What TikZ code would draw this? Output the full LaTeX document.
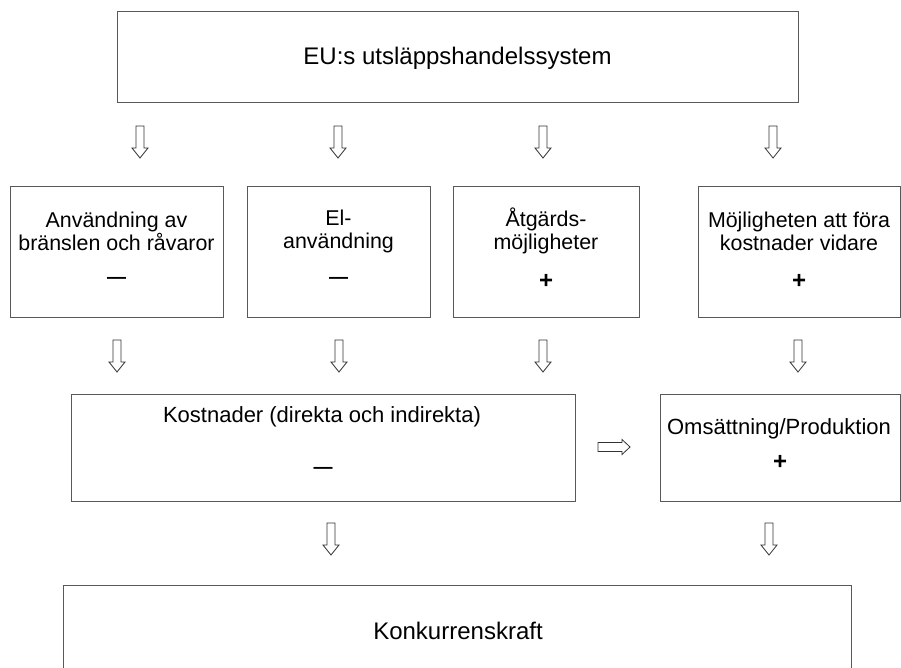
\documentclass[tikz,border=0pt]{standalone}
\usepackage{fontspec}
\setmainfont{Liberation Sans}
\begin{document}
\begin{tikzpicture}[x=1pt,y=-1pt,
  box/.style={draw=black!65,line width=1pt,inner sep=0pt,fill=white},
  txt/.style={inner sep=0pt,align=center,font=\fontsize{21.4}{23}\selectfont},
  plussign/.style={inner sep=0pt,font=\fontsize{24}{24}\selectfont\bfseries},
  minussign/.style={inner sep=0pt,font=\fontsize{19}{19}\selectfont\bfseries},
  arr/.style={draw=black!80,line width=0.8pt,line join=miter},
  dn/.pic={\draw[arr] (-4,0) -- (4,0) -- (4,22) -- (8,22) -- (0,32) -- (-8,22) -- (-4,22) -- cycle;},
  rt/.pic={\draw[arr] (0,-4.5) -- (24,-4.5) -- (24,-7.5) -- (32,0) -- (24,7.5) -- (24,4.5) -- (0,4.5) -- cycle;}
]
\clip (0,0) rectangle (901,668);
\fill[white] (0,0) rectangle (901,668);

% boxes
\node[box,minimum width=681,minimum height=91] (top) at (457.5,57.5) {};
\node[txt,font=\fontsize{24}{26}\selectfont] (topt) at (457.5,58) {EU:s utsläppshandelssystem};

\node[box,minimum width=213,minimum height=130] (b1) at (116.5,252) {};
\node[box,minimum width=183,minimum height=130] (b2) at (338.5,252) {};
\node[box,minimum width=186,minimum height=130] (b3) at (546,252) {};
\node[box,minimum width=202,minimum height=130] (b4) at (799,252) {};

\node[txt] (b1t) at (116.5,231) {Användning av\\bränslen och råvaror};
\node[txt] (b2t) at (338.5,231) {El-\\användning};
\node[txt] (b3t) at (546,231) {Åtgärds-\\möjligheter};
\node[txt] (b4t) at (799,231) {Möjligheten att föra\\kostnader vidare};
\node[minussign] (b1s) at (116.5,280) {—};
\node[minussign] (b2s) at (338.5,280) {—};
\node[plussign] (b3s) at (546,281) {+};
\node[plussign] (b4s) at (799,281) {+};

\node[box,minimum width=504,minimum height=107] (kost) at (323,447.5) {};
\node[txt,font=\fontsize{22}{23}\selectfont] (kostt) at (322,417) {Kostnader (direkta och indirekta)};
\node[minussign] (kosts) at (323,470) {—};

\node[box,minimum width=240,minimum height=107] (oms) at (780,447.5) {};
\node[txt,font=\fontsize{22}{23}\selectfont] (omst) at (779,429) {Omsättning/Produktion};
\node[plussign] (omss) at (780,462) {+};

\node[box,minimum width=788,minimum height=95] (konk) at (457,632.5) {};
\node[txt,font=\fontsize{24}{26}\selectfont] (konkt) at (458,631) {Konkurrenskraft};

% block arrows
\pic at (140,126) {dn};
\pic at (338,126) {dn};
\pic at (543,126) {dn};
\pic at (773,126) {dn};

\pic at (117,340) {dn};
\pic at (339,340) {dn};
\pic at (543,340) {dn};
\pic at (798,340) {dn};

\pic at (598,447) {rt};

\pic at (331,523) {dn};
\pic at (769,523) {dn};
\end{tikzpicture}
\end{document}
